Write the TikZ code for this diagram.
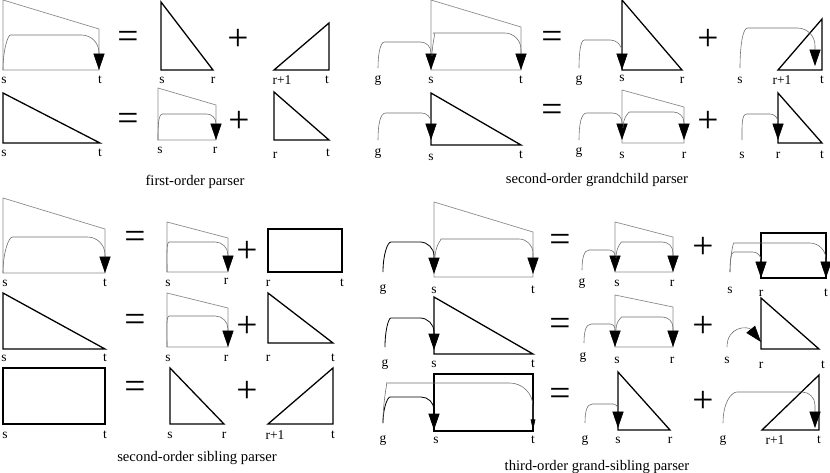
\documentclass[tikz,border=0pt]{standalone}
\usepackage{fontspec}
\setmainfont{Liberation Serif}
\usepackage{tikz}
\usetikzlibrary{arrows.meta}
\definecolor{spangray}{RGB}{140,140,140}
\definecolor{arcgray}{RGB}{110,110,110}
\tikzset{
  cspan/.style={draw=spangray, line width=0.6pt, line join=miter},
  ispan/.style={draw=black, line width=1.1pt, line join=miter},
  sspan/.style={draw=black, line width=1.1pt},
  dep/.style={draw=arcgray, line width=0.5pt, rounded corners=#1,
    -{Triangle[width=9.5pt, length=14pt, color=black]}},
  dep/.default=10pt,
  smalldep/.style={draw=arcgray, line width=0.5pt, rounded corners=#1,
    -{Triangle[width=4pt, length=9pt, color=black]}},
  smalldep/.default=20pt,
  gdep/.style={dep=#1, draw=black, line width=0.7pt},
  up/.style={out=90, in=180, looseness=1.2},
  lbl/.style={font=\fontsize{11.5}{13}\selectfont, inner sep=0pt},
  op/.style={font=\fontsize{32}{32}\selectfont, inner sep=0pt},
  caption/.style={font=\fontsize{12.5}{14}\selectfont, inner sep=0pt}
}

\begin{document}
\begin{tikzpicture}[x=0.03cm, y=-0.03cm]
  \useasboundingbox (0,0) rectangle (830,473);

  % first-order parser, row 1
  \draw[cspan] (3,0) -- (99,29) -- (99,70) -- (3,70) -- cycle;
  \draw[dep=15pt] (3,70) to[up] (28,35) -| (99,70);
  \node[lbl] (A1a) at (4,80) {s};
  \node[lbl] (A1b) at (100,80) {t};
  \node[op] (A1eq) at (128,40) {=};
  \draw[ispan] (161,2) -- (161,70) -- (213,70) -- cycle;
  \node[lbl] (A1c) at (162,80) {s};
  \node[lbl] (A1d) at (213,80) {r};
  \node[op] (A1plus) at (238,40) {+};
  \draw[ispan] (274,70) -- (329,23) -- (329,70) -- cycle;
  \node[lbl] (A1e) at (282,80) {r+1};
  \node[lbl] (A1f) at (327,80) {t};

  % first-order parser, row 2
  \draw[ispan] (3,93) -- (3,143) -- (100,143) -- cycle;
  \node[lbl] (A2a) at (4,153) {s};
  \node[lbl] (A2b) at (100,153) {t};
  \node[op] (A2eq) at (128,122) {=};
  \draw[cspan] (158,88) -- (216,105) -- (216,140) -- (158,140) -- cycle;
  \draw[dep=8pt] (158,140) to[up] (172,114) -| (216,140);
  \node[lbl] (A2c) at (160,150) {s};
  \node[lbl] (A2d) at (215,150) {r};
  \node[op] (A2plus) at (239,122) {+};
  \draw[ispan] (274,92) -- (274,140) -- (329,140) -- cycle;
  \node[lbl] (A2e) at (275,155) {r};
  \node[lbl] (A2f) at (328,153) {t};
  \node[caption] (Acap) at (195,182) {first-order parser};

  % second-order grandchild parser, row 1
  \draw[cspan] (431,0) -- (521,27) -- (521,70) -- (431,70) -- cycle;
  \draw[dep=9pt] (378,68) to[up] (395,42) -| (431,70);
  \draw[dep=14pt] (432,56) to[up] (450,33) -| (521,70);
  \node[lbl] (B1a) at (378,80) {g};
  \node[lbl] (B1b) at (431,80) {s};
  \node[lbl] (B1c) at (521,80) {t};
  \node[op] (B1eq) at (552,40) {=};
  \draw[ispan] (622,0) -- (622,70) -- (682,70) -- cycle;
  \draw[dep=10pt] (579,68) to[up] (596,40) -| (622,70);
  \node[lbl] (B1d) at (579,80) {g};
  \node[lbl] (B1e) at (622,78) {s};
  \node[lbl] (B1f) at (682,80) {r};
  \node[op] (B1plus) at (708,40) {+};
  \draw[ispan] (778,70) -- (822,19) -- (822,70) -- cycle;
  \draw[dep=15pt] (740,68) to[up] (765,28) -| (815,66);
  \node[lbl] (B1g) at (740,80) {s};
  \node[lbl] (B1h) at (782,80) {r+1};
  \node[lbl] (B1i) at (822,80) {t};

  % second-order grandchild parser, row 2
  \draw[ispan] (431,93) -- (431,145) -- (521,145) -- cycle;
  \draw[dep=8pt] (378,140) to[up] (395,113) -| (431,140);
  \node[lbl] (B2a) at (378,153) {g};
  \node[lbl] (B2b) at (431,157) {s};
  \node[lbl] (B2c) at (521,155) {t};
  \node[op] (B2eq) at (552,113) {=};
  \draw[cspan] (622,90) -- (684,107) -- (684,143) -- (622,143) -- cycle;
  \draw[dep=8pt] (579,140) to[up] (596,113) -| (622,140);
  \draw[dep=9pt] (623,128) to[up] (640,112) -| (684,140);
  \node[lbl] (B2d) at (579,152) {g};
  \node[lbl] (B2e) at (622,155) {s};
  \node[lbl] (B2f) at (684,155) {r};
  \node[op] (B2plus) at (708,122) {+};
  \draw[ispan] (778,93) -- (778,143) -- (822,143) -- cycle;
  \draw[dep=7pt] (742,140) to[up] (755,114) -| (778,140);
  \node[lbl] (B2g) at (742,155) {s};
  \node[lbl] (B2h) at (778,155) {r};
  \node[lbl] (B2i) at (822,155) {t};
  \node[caption] (Bcap) at (597,180) {second-order grandchild parser};

  % second-order sibling parser, row 1
  \draw[cspan] (3,198) -- (105,229) -- (105,273) -- (3,273) -- cycle;
  \draw[dep=15pt] (3,273) to[up] (30,237) -| (105,273);
  \node[lbl] (C1a) at (5,283) {s};
  \node[lbl] (C1b) at (105,283) {t};
  \node[op] (C1eq) at (135,240) {=};
  \draw[cspan] (167,222) -- (228,238) -- (228,272) -- (167,272) -- cycle;
  \draw[dep=11pt] (167,272) to[up] (182,242) -| (228,272);
  \node[lbl] (C1c) at (168,283) {s};
  \node[lbl] (C1d) at (226,281) {r};
  \node[op] (C1plus) at (247,252) {+};
  \draw[sspan] (268,229) rectangle (342,272);
  \node[lbl] (C1e) at (268,283) {r};
  \node[lbl] (C1f) at (342,283) {t};

  % second-order sibling parser, row 2
  \draw[ispan] (3,293) -- (3,349) -- (105,349) -- cycle;
  \node[lbl] (C2a) at (4,358) {s};
  \node[lbl] (C2b) at (105,358) {t};
  \node[op] (C2eq) at (135,323) {=};
  \draw[cspan] (167,293) -- (228,308) -- (228,347) -- (167,347) -- cycle;
  \draw[dep=11pt] (167,347) to[up] (182,316) -| (228,347);
  \node[lbl] (C2c) at (168,358) {s};
  \node[lbl] (C2d) at (226,358) {r};
  \node[op] (C2plus) at (247,327) {+};
  \draw[ispan] (268,293) -- (268,343) -- (333,343) -- cycle;
  \node[lbl] (C2e) at (268,358) {r};
  \node[lbl] (C2f) at (333,358) {t};

  % second-order sibling parser, row 3
  \draw[sspan] (3,368) rectangle (105,424);
  \node[lbl] (C3a) at (5,435) {s};
  \node[lbl] (C3b) at (105,435) {t};
  \node[op] (C3eq) at (135,390) {=};
  \draw[ispan] (170,368) -- (170,424) -- (224,424) -- cycle;
  \node[lbl] (C3c) at (170,435) {s};
  \node[lbl] (C3d) at (224,435) {r};
  \node[op] (C3plus) at (247,392) {+};
  \draw[ispan] (268,424) -- (333,368) -- (333,424) -- cycle;
  \node[lbl] (C3e) at (275,435) {r+1};
  \node[lbl] (C3f) at (333,435) {t};
  \node[caption] (Ccap) at (197,458) {second-order sibling parser};

  % third-order grand-sibling parser, row 1
  \draw[cspan] (434,202) -- (533,232) -- (533,277) -- (434,277) -- cycle;
  \draw[gdep=12pt] (383,272) to[up] (405,242) -| (434,274);
  \draw[dep=12pt] (435,258) to[up] (455,239) -| (533,274);
  \node[lbl] (D1a) at (383,289) {g};
  \node[lbl] (D1b) at (434,290) {s};
  \node[lbl] (D1c) at (533,290) {t};
  \node[op] (D1eq) at (560,243) {=};
  \draw[cspan] (615,222) -- (673,237) -- (673,272) -- (615,272) -- cycle;
  \draw[dep=5pt] (582,270) to[up] (595,250) -| (615,272);
  \draw[dep=9pt] (616,258) to[up] (632,242) -| (673,272);
  \node[lbl] (D1d) at (582,283) {g};
  \node[lbl] (D1e) at (617,283) {s};
  \node[lbl] (D1f) at (672,283) {r};
  \node[op] (D1plus) at (703,248) {+};
  \draw[sspan] (761,233) rectangle (826,278);
  \draw[dep=7pt] (730,272) to[up] (742,252) -| (761,278);
  \draw[dep=14pt] (730,272) to[up] (750,243) -| (826,278);
  \node[lbl] (D1g) at (730,290) {s};
  \node[lbl] (D1h) at (761,293) {r};
  \node[lbl] (D1i) at (826,293) {t};

  % third-order grand-sibling parser, row 2
  \draw[ispan] (434,297) -- (434,354) -- (533,354) -- cycle;
  \draw[gdep=12pt] (385,347) to[up] (405,318) -| (434,350);
  \node[lbl] (D2a) at (385,364) {g};
  \node[lbl] (D2b) at (434,364) {s};
  \node[lbl] (D2c) at (533,364) {t};
  \node[op] (D2eq) at (560,327) {=};
  \draw[cspan] (615,295) -- (673,307) -- (673,347) -- (615,347) -- cycle;
  \draw[dep=4pt] (584,343) to[up] (596,324) -| (615,347);
  \draw[dep=9pt] (616,330) to[up] (632,317) -| (673,347);
  \node[lbl] (D2d) at (583,357) {g};
  \node[lbl] (D2e) at (617,360) {s};
  \node[lbl] (D2f) at (672,360) {r};
  \node[op] (D2plus) at (703,327) {+};
  \draw[ispan] (761,298) -- (761,349) -- (819,349) -- cycle;
  \draw[dep] (727,347) .. controls (727,326) and (748,326) .. (761,342);
  \node[lbl] (D2g) at (727,360) {s};
  \node[lbl] (D2h) at (761,365) {r};
  \node[lbl] (D2i) at (823,365) {t};

  % third-order grand-sibling parser, row 3
  \draw[sspan] (434,374) rectangle (533,431);
  \draw[gdep=11pt] (383,423) to[up] (403,397) -| (434,430);
  \draw[smalldep] (383,423) to[up] (410,383) -| (533,430);
  \node[lbl] (D3a) at (383,440) {g};
  \node[lbl] (D3b) at (436,440) {s};
  \node[lbl] (D3c) at (533,440) {t};
  \node[op] (D3eq) at (560,397) {=};
  \draw[ispan] (618,372) -- (618,430) -- (670,430) -- cycle;
  \draw[dep=4pt] (585,423) to[up] (597,404) -| (618,428);
  \node[lbl] (D3d) at (585,440) {g};
  \node[lbl] (D3e) at (618,440) {s};
  \node[lbl] (D3f) at (670,440) {r};
  \node[op] (D3plus) at (703,402) {+};
  \draw[ispan] (762,430) -- (819,375) -- (819,430) -- cycle;
  \draw[dep=11pt] (723,423) to[up] (750,392) -| (815,428);
  \node[lbl] (D3g) at (723,440) {g};
  \node[lbl] (D3h) at (775,440) {r+1};
  \node[lbl] (D3i) at (819,440) {t};
  \node[caption] (Dcap) at (597,467) {third-order grand-sibling parser};
\end{tikzpicture}
\end{document}
